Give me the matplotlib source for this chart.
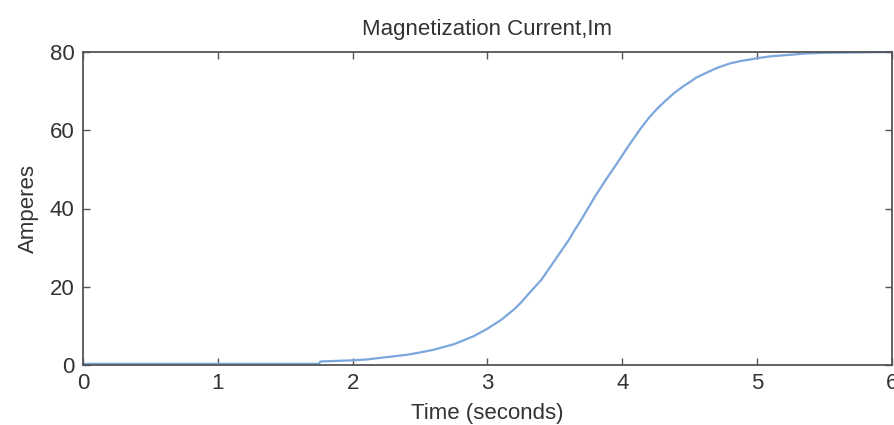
import matplotlib
matplotlib.use("Agg")
import matplotlib.pyplot as plt

time_s = [0.0, 1.75, 1.76, 2.0, 2.1, 2.25, 2.4, 2.5, 2.6, 2.75, 2.9, 3.0,
          3.1, 3.2, 3.25, 3.3, 3.4, 3.5, 3.6, 3.645, 3.7, 3.75, 3.8, 3.89,
          3.95, 4.0, 4.05, 4.135, 4.2, 4.25, 4.3, 4.38, 4.45, 4.5, 4.55,
          4.63, 4.7, 4.75, 4.8, 4.88, 5.0, 5.1, 5.25, 5.35, 5.5, 6.0]
current_a = [0.3, 0.3, 0.9, 1.2, 1.4, 2.0, 2.6, 3.2, 3.9, 5.3, 7.4, 9.3,
             11.5, 14.3, 16.0, 18.0, 21.8, 26.8, 31.8, 34.4, 37.4, 40.3,
             43.2, 48.0, 51.0, 53.6, 56.2, 60.4, 63.3, 65.2, 66.9, 69.4,
             71.2, 72.3, 73.5, 74.8, 75.9, 76.5, 77.1, 77.7, 78.4, 78.9,
             79.3, 79.6, 79.8, 80.0]
xticks = [0, 1, 2, 3, 4, 5, 6]
yticks = [0, 20, 40, 60, 80]

plt.rcParams['font.family'] = ['Liberation Sans', 'DejaVu Sans']

fig = plt.figure(figsize=(8.94, 4.25), dpi=100)
ax = fig.add_axes([83/894, 1 - 365/425, (892 - 83)/894, (365 - 52)/425])

ax.plot(time_s, current_a, color='#7ba7dd', lw=1.6, clip_on=False)

ax.set_xlim(0, 6)
ax.set_ylim(0, 80)
ax.set_xticks(xticks)
ax.set_yticks(yticks)
axcol = '#555555'
for s in ax.spines.values():
    s.set_color(axcol)
    s.set_linewidth(1.3)
ax.tick_params(direction='in', length=5, width=1, colors=axcol,
               labelcolor='#333333', labelsize=16, top=True, right=True)
ax.tick_params(axis='x', pad=6)
ax.tick_params(axis='y', pad=6)

ax.set_title('Magnetization Current,Im', fontsize=16, color='#333333', pad=12)
ax.set_xlabel('Time (seconds)', fontsize=16, color='#333333', labelpad=6)
ax.set_ylabel('Amperes', fontsize=16, color='#333333', labelpad=8)

fig.savefig('out.png', dpi=100)
